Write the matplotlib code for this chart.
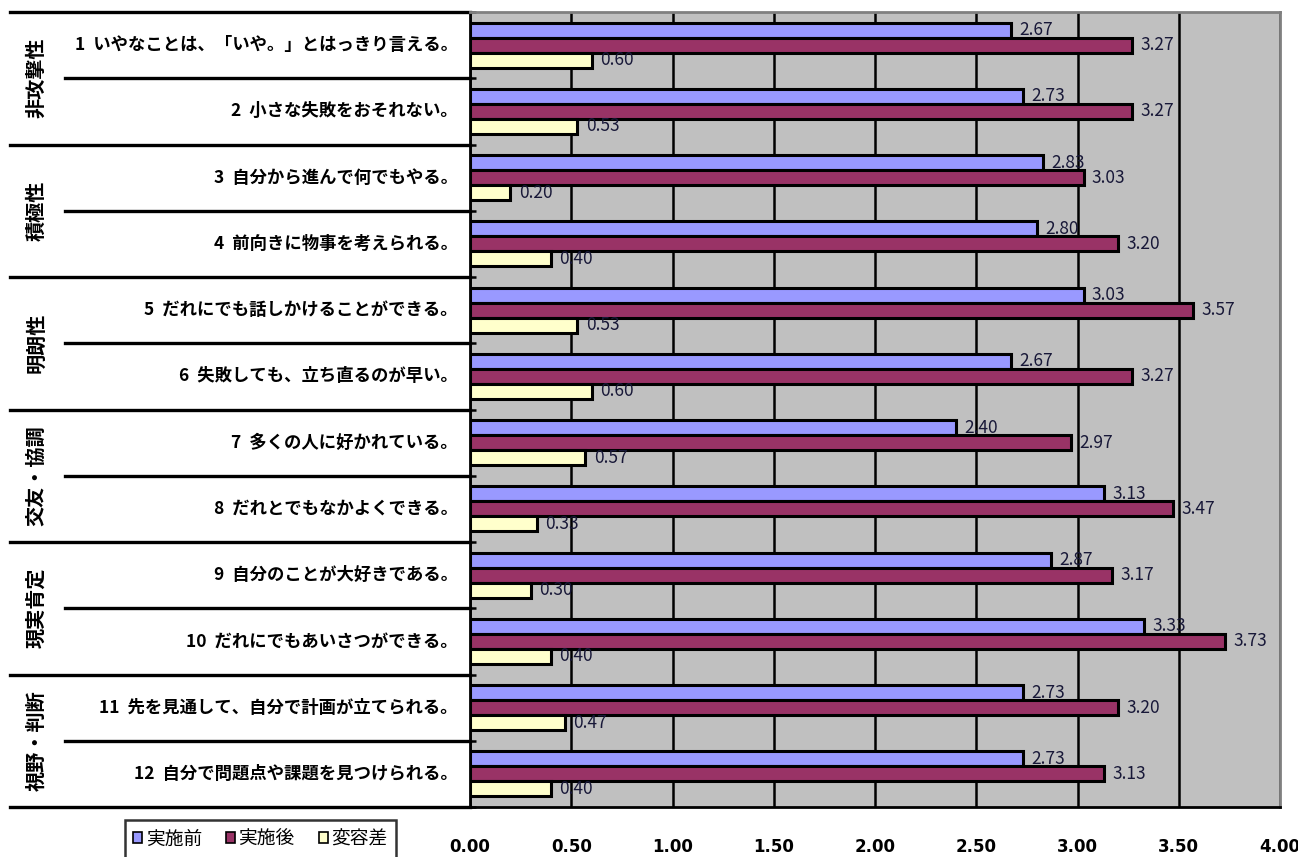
import numpy as np
import matplotlib
matplotlib.use('Agg')
import matplotlib.pyplot as plt
from matplotlib.lines import Line2D
from matplotlib.patches import Patch

plt.rcParams['font.family'] = ['Noto Sans CJK JP', 'DejaVu Sans']

items = ['1  いやなことは、「いや。」とはっきり言える。',
         '2  小さな失敗をおそれない。',
         '3  自分から進んで何でもやる。',
         '4  前向きに物事を考えられる。',
         '5  だれにでも話しかけることができる。',
         '6  失敗しても、立ち直るのが早い。',
         '7  多くの人に好かれている。',
         '8  だれとでもなかよくできる。',
         '9  自分のことが大好きである。',
         '10  だれにでもあいさつができる。',
         '11  先を見通して、自分で計画が立てられる。',
         '12  自分で問題点や課題を見つけられる。']
groups = ['非攻撃性', '積極性', '明朗性', '交友・協調', '現実肯定', '視野・判断']
series = ['実施前', '実施後', '変容差']
before = [2.67, 2.73, 2.83, 2.80, 3.03, 2.67, 2.40, 3.13, 2.87, 3.33, 2.73, 2.73]
after = [3.27, 3.27, 3.03, 3.20, 3.57, 3.27, 2.97, 3.47, 3.17, 3.73, 3.20, 3.13]
diff = [0.60, 0.53, 0.20, 0.40, 0.53, 0.60, 0.57, 0.33, 0.30, 0.40, 0.47, 0.40]
xticks = [0.0, 0.5, 1.0, 1.5, 2.0, 2.5, 3.0, 3.5, 4.0]

colors = ['#9999FF', '#993366', '#FFFFCC']

W, H = 1298, 857
fig = plt.figure(figsize=(W / 100, H / 100), dpi=100)
ax = fig.add_axes([470 / W, 1 - 807 / H, 810 / W, 795 / H])
ax.set_facecolor('#C0C0C0')

n = len(items)
y = np.arange(n) + 0.5
bh = 0.227
for k, vals in enumerate([before, after, diff]):
    yy = y + (k - 1) * bh
    ax.barh(yy, vals, height=bh, color=colors[k], edgecolor='black',
            linewidth=2.2, zorder=3)
    for v, yv in zip(vals, yy):
        ax.annotate('%.2f' % v, (v, yv), xytext=(6, 0), textcoords='offset points',
                    va='center', ha='left', fontsize=12.5, color='#181838',
                    zorder=4)

ax.set_xlim(0, 4)
ax.set_ylim(n, 0)
ax.set_xticks(xticks)
ax.set_xticklabels(['%.2f' % t for t in xticks], fontsize=12, fontweight='bold',
                   family='DejaVu Sans')
ax.tick_params(axis='x', length=0, pad=22)
ax.set_yticks(np.arange(n + 1))
ax.set_yticklabels([])
ax.tick_params(axis='y', direction='inout', length=8, width=1.8)
ax.grid(axis='x', color='black', linewidth=1.8, zorder=1)
ax.set_axisbelow(True)
for s in ['top', 'right']:
    ax.spines[s].set_color('#808080')
    ax.spines[s].set_linewidth(2)
ax.spines['left'].set_linewidth(2)
ax.spines['bottom'].set_linewidth(2)

# left label table
tr = ax.get_yaxis_transform()
x_grp = (10 - 470) / 810
x_item = (65 - 470) / 810
for i in range(n + 1):
    x0 = x_grp if i % 2 == 0 else x_item
    ax.add_line(Line2D([x0, 0], [i, i], transform=tr, color='black',
                       linewidth=2.4, clip_on=False))
for i, lab in enumerate(items):
    ax.text(-0.015, i + 0.5, lab, transform=tr, ha='right', va='center',
            fontsize=12.5, fontweight='bold')
for g, lab in enumerate(groups):
    ax.text((36 - 470) / 810, 2 * g + 1, lab, transform=tr, ha='center',
            va='center', rotation=90, fontsize=14.5, fontweight='bold')

handles = [Patch(facecolor=c, edgecolor='black', linewidth=1.2) for c in colors]
leg = fig.legend(handles, series, loc='upper left',
                 bbox_to_anchor=(125 / W, 1 - 820 / H), ncol=3, fontsize=13.5,
                 frameon=True, fancybox=False, handlelength=0.45, handleheight=0.55,
                 handletextpad=0.2, columnspacing=1.3, borderpad=0.45,
                 borderaxespad=0)
leg.get_frame().set_edgecolor('black')
leg.get_frame().set_linewidth(1.8)

fig.savefig('out.png', dpi=100)
